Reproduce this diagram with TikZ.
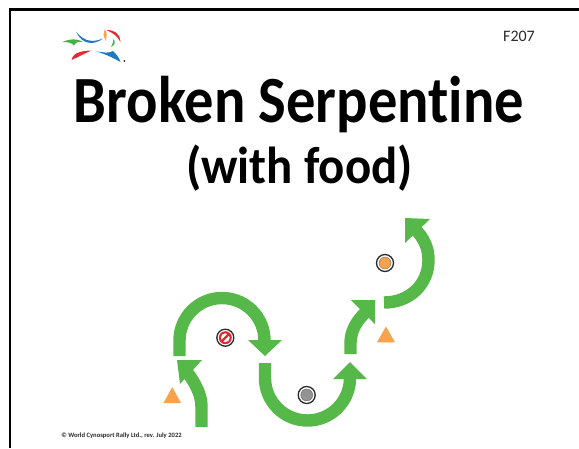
\documentclass[tikz,border=0pt]{standalone}
\usepackage{fontspec}
\setmainfont[RawFeature=-liga]{Carlito}
\usetikzlibrary{positioning, calc}
\definecolor{pathgreen}{HTML}{55B848}
\definecolor{cone}{HTML}{F7A24C}
\definecolor{ringdark}{HTML}{2B2B2B}
\definecolor{logoblue}{HTML}{1F78BE}
\definecolor{logored}{HTML}{E02B2F}
\definecolor{logogreen}{HTML}{45B04A}

\begin{document}
\begin{tikzpicture}[x=1pt, y=-1pt,
      track/.style={draw=pathgreen, line width=12.4pt},
      tip/.style={fill=pathgreen},
      conemark/.style={fill=cone},
      bowl/.style={circle, draw=ringdark, line width=1.3pt, fill=white, inner sep=0pt, minimum size=17pt},
      title/.style={anchor=base, text=black, inner sep=0pt}]

    \useasboundingbox (0, 0) rectangle (579, 448);
    \fill[white] (0, 0) rectangle (579, 448);

    % Frame
    \draw[line width=2.2pt] (10, 448) -- (10, 9.5) -- (579, 9.5);

    % Logo
    \fill[logoblue] (76, 31.5) .. controls (85, 43) and (94, 42) .. (103, 38.5)
      .. controls (94, 45.5) and (82, 45) .. (76, 31.5);
    \fill[logogreen] (62.5, 42) .. controls (70, 38.5) and (78, 38.5) .. (83, 42)
      .. controls (78, 41.5) and (76, 42) .. (74, 45.5) .. controls (72, 42.5) and (67, 42) .. (62.5, 42);
    \fill[cone] (105, 29.5) .. controls (108, 34) and (106, 37) .. (106, 41)
      .. controls (103, 36) and (103, 33) .. (105, 29.5);
    \fill[logored] (106.5, 30) .. controls (114, 30) and (120, 33) .. (120.5, 42)
      .. controls (117, 35.5) and (113, 33) .. (106.5, 30);
    \fill[logogreen] (113.5, 39) .. controls (116, 42) and (115, 45) .. (111, 47)
      .. controls (113, 44) and (113, 42) .. (113.5, 39);
    \fill[logored] (71.5, 60) .. controls (73, 53) and (80, 51) .. (91, 50.5)
      .. controls (84, 54) and (80, 56) .. (71.5, 60);
    \fill[logoblue] (96, 51.5) .. controls (103, 52) and (108, 54) .. (113, 51)
      .. controls (116, 54) and (119, 57) .. (120.5, 62)
      .. controls (115, 59) and (106, 54) .. (96, 51.5);
    \fill[ringdark] (124.3, 61) circle (1);

    % Texts
    \node[font=\fontsize{16}{16}\selectfont, text=ringdark, inner sep=0pt] (code) at (519, 36.5) {F207};
    \node[title, font=\fontsize{66}{66}\bfseries] (head) at (299, 122.3)
      {\scalebox{.887}[1]{Broken Serpentine}};
    \node[title, font=\fontsize{52}{52}\bfseries] (sub) at (299.5, 183)
      {\scalebox{.94}[1]{(with food)}};
    \node[font=\fontsize{6.6}{6.6}\bfseries, text=ringdark, inner sep=0pt] (rights) at (121.5, 435.5)
      {© World Cynosport Rally Ltd., rev. July 2022};

    % Arrows
    \draw[track] (201.5, 427) -- (201.5, 407) .. controls (201.5, 395) and (196, 384) .. (187, 372);
    \fill[tip] (177, 360) -- (202, 360) -- (180, 384) -- cycle;

    \draw[track] (179.5, 356) -- (179.5, 340.5) arc[start angle=180, end angle=360, radius=42.5] -- (264.5, 341);
    \fill[tip] (248, 340) -- (282, 340) -- (265, 356) -- cycle;

    \draw[track] (265, 363) -- (265, 378) arc[start angle=180, end angle=0, radius=42.5] -- (349.5, 378);
    \fill[tip] (333, 379) -- (367, 379) -- (350, 362) -- cycle;

    \draw[track] (350.5, 354) -- (350.5, 343) .. controls (350.5, 332) and (356, 321) .. (366, 312);
    \fill[tip] (351, 300) -- (375, 300) -- (375, 324) -- cycle;

    \draw[track] (384, 302.5) .. controls (410, 302.5) and (428.5, 284) .. (428.5, 260)
      .. controls (428.5, 248) and (424, 238) .. (415, 229);
    \fill[tip] (405, 218) -- (430, 219) -- (405, 243) -- cycle;

    % Cones
    \fill[conemark] (163.5, 403) -- (181, 403) -- (172.2, 387) -- cycle;
    \fill[conemark] (377, 342.3) -- (395, 342.3) -- (386, 326.5) -- cycle;

    % Bowls
    \node[bowl] (nofood) at (225.3, 337.7) {};
    \fill[logored] (nofood) circle (6.5);
    \fill[white] (nofood) circle (4.4);
    \draw[logored, line width=2.2pt] ($(nofood)+(-4, 4)$) -- ($(nofood)+(4, -4)$);

    \node[bowl] (food) at (306.7, 395) {};
    \fill[gray!85, draw=ringdark!70, line width=.4pt] (food) circle (6);

    \node[bowl] (treat) at (385, 263) {};
    \fill[cone, draw=ringdark!70, line width=.4pt] (treat) circle (6);
  \end{tikzpicture}
\end{document}
